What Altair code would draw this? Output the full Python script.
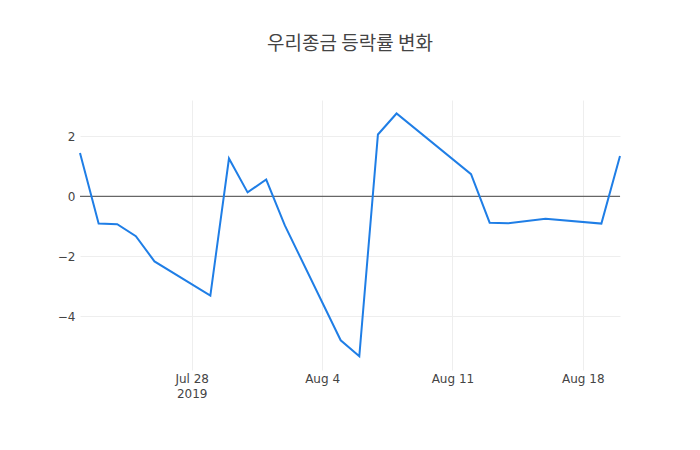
import altair as alt
import pandas as pd

dates = [
    "2019-07-22", "2019-07-23", "2019-07-24", "2019-07-25", "2019-07-26",
    "2019-07-29", "2019-07-30", "2019-07-31", "2019-08-01", "2019-08-02",
    "2019-08-05", "2019-08-06", "2019-08-07", "2019-08-08", "2019-08-12",
    "2019-08-13", "2019-08-14", "2019-08-16", "2019-08-19", "2019-08-20",
]
rates = [
    1.44, -0.91, -0.93, -1.33, -2.17,
    -3.31, 1.26, 0.13, 0.56, -0.97,
    -4.80, -5.33, 2.06, 2.76, 0.74,
    -0.88, -0.90, -0.75, -0.91, 1.34,
]
y_ticks = [-4, -2, 0, 2]

df = pd.DataFrame({"date": dates, "rate": rates})

label_font = "DejaVu Sans, Verdana, sans-serif"
title_font = "Noto Sans CJK KR, sans-serif"
x_ticks = [alt.DateTime(year=2019, month=m, date=d, utc=True)
           for m, d in [(7, 28), (8, 4), (8, 11), (8, 18)]]
y_scale = alt.Scale(domain=[-5.79, 3.21], nice=False, zero=False)

x_enc = alt.X(
    "date:T",
    title=None,
    scale=alt.Scale(type="utc",
                    domain=[alt.DateTime(year=2019, month=7, date=22, utc=True),
                            alt.DateTime(year=2019, month=8, date=20, utc=True)]),
    axis=alt.Axis(
        values=x_ticks,
        labelExpr="utcFormat(datum.value, '%b %-d') == 'Jul 28' ? ['Jul 28', '2019'] : utcFormat(datum.value, '%b %-d')",
        grid=True, gridColor="#eeeeee", domain=False, ticks=False,
        labelPadding=3, labelFontSize=12, labelColor="#444444", labelFont=label_font,
        labelLineHeight=15,
    ),
)
y_enc = alt.Y(
    "rate:Q",
    title=None,
    scale=y_scale,
    axis=alt.Axis(
        values=y_ticks, grid=True, gridColor="#eeeeee", domain=False, ticks=False,
        labelPadding=5, labelFontSize=12, labelColor="#444444", labelFont=label_font,
    ),
)

line = alt.Chart(df).mark_line(color="#1f7ee6", strokeWidth=2).encode(x=x_enc, y=y_enc)

zero = alt.Chart(pd.DataFrame({"z": [0]})).mark_rule(color="#444444", strokeWidth=1).encode(
    y=alt.Y("z:Q", scale=y_scale)
)

chart = alt.layer(zero, line).properties(
    width=540,
    height=270,
    autosize="none",
    padding={"left": 72, "top": 92, "right": 72, "bottom": 72},
    title=alt.TitleParams("우리종금 등락률 변화", fontSize=19, font=title_font, color="#444444",
                          fontWeight="normal", anchor="middle", offset=46),
).configure_view(stroke=None)

chart.save("out.html", embed_options={"renderer": "svg", "actions": False})
